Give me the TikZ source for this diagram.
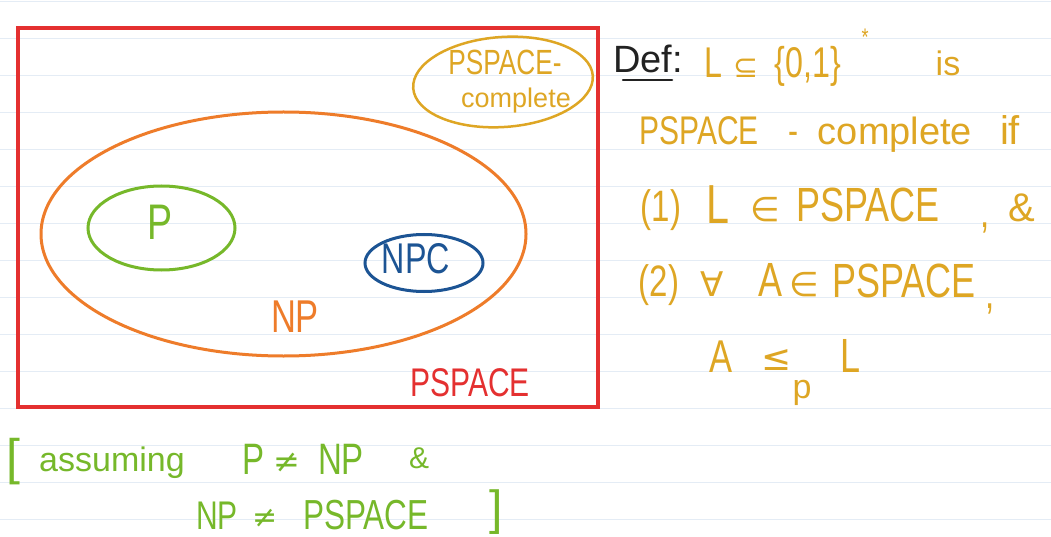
\documentclass[tikz,border=0pt]{standalone}
\usepackage{fontspec}
\setmainfont{Liberation Sans}[FakeStretch=0.75]
\newfontfamily\lcf{Liberation Sans}
\newfontfamily\symf{DejaVu Sans}
\newcommand{\fz}[1]{\fontsize{#1}{#1}\selectfont}
\definecolor{cred}{RGB}{228,48,48}
\definecolor{corange}{RGB}{238,124,42}
\definecolor{cgreen}{RGB}{118,184,42}
\definecolor{cblue}{RGB}{28,84,148}
\definecolor{cgold}{RGB}{222,166,36}
\definecolor{cdef}{RGB}{34,34,34}
\definecolor{cruled}{RGB}{228,236,245}
\begin{document}
\begin{tikzpicture}[x=1pt,y=-1pt,
  ruled/.style={draw=cruled,line width=1pt},
  setline/.style={line width=3pt},
  txt/.style={inner sep=0pt,outer sep=0pt,anchor=base}]
\useasboundingbox (0,0) rectangle (1051,537);
\fill[white] (0,0) rectangle (1051,537);
\foreach \i in {0,...,14} \draw[ruled] (0,{2+36.95*\i}) -- (1051,{2+36.95*\i});
% sets
\draw[setline,cred,line width=3.5pt] (18,28) rectangle (598,407);
\draw[setline,corange] (283.5,234) ellipse [x radius=242.5, y radius=122];
\draw[setline,cgreen] (161.5,228) ellipse [x radius=73.5, y radius=42];
\draw[setline,cblue] (424,263) ellipse [x radius=59, y radius=28.5];
\draw[setline,cgold,line width=2.5pt,rotate around={4:(503,82)}] (503,82) ellipse [x radius=90, y radius=45];
% set labels
\node[txt,cgreen,font=\fz{50}] (lp) at (160,240) {P};
\node[txt,cblue,font=\fz{43}] (lnpc) at (416,273) {NPC};
\node[txt,corange,font=\fz{46}] (lnp) at (295,332) {NP};
\node[txt,cred,font=\fz{40}] (lps) at (470,396) {PSPACE};
\node[txt,cgold,font=\fz{35}] (lpc1) at (505,75) {PSPACE-};
\node[txt,cgold,font=\lcf\fz{27}] (lpc2) at (516,108) {complete};
% definition
\node[txt,cdef,font=\lcf\fz{38}] (def) at (648,73) {Def:};
\draw[cdef,line width=2.5pt,line cap=round] (623,80) -- (672,80);
\node[txt,cgold,font=\fz{43}] (d1a) at (713,78) {L};
\node[txt,cgold,font=\symf\fz{30}] (d1b) at (746,78) {⊆};
\node[txt,cgold,font=\fz{43}] (d1c) at (808,78) {\{0,1\}};
\node[txt,cgold,font=\fz{24}] (d1d) at (865,46) {*};
\node[txt,cgold,font=\lcf\fz{34}] (d1e) at (948,76) {is};
\node[txt,cgold,font=\fz{40}] (d2a) at (699,145) {PSPACE};
\node[txt,cgold,font=\fz{40}] (d2b) at (793,145) {-};
\node[txt,cgold,font=\lcf\fz{38}] (d2c) at (895,145) {complete};
\node[txt,cgold,font=\lcf\fz{40}] (d2d) at (1010,145) {if};
\node[txt,cgold,font=\fz{44}] (d3a) at (661,222) {(1)};
\node[txt,cgold,font=\fz{55}] (d3b) at (718,224) {L};
\node[txt,cgold,font=\symf\fz{34}] (d3c) at (765,222) {∈};
\node[txt,cgold,font=\fz{48}] (d3d) at (868,222) {PSPACE};
\node[txt,cgold,font=\fz{44}] (d3e) at (985,228) {,};
\node[txt,cgold,font=\lcf\fz{40}] (d3f) at (1022,222) {\&};
\node[txt,cgold,font=\fz{44}] (d4a) at (659,296) {(2)};
\node[txt,cgold,font=\symf\fz{34}] (d4b) at (712,296) {∀};
\node[txt,cgold,font=\fz{48}] (d4c) at (770,296) {A};
\node[txt,cgold,font=\symf\fz{34}] (d4d) at (804,296) {∈};
\node[txt,cgold,font=\fz{48}] (d4e) at (904,297) {PSPACE};
\node[txt,cgold,font=\fz{44}] (d4f) at (990,308) {,};
\node[txt,cgold,font=\fz{46}] (d5a) at (721,372) {A};
\node[txt,cgold,font=\symf\fz{36}] (d5b) at (777,370) {≤};
\node[txt,cgold,font=\lcf\fz{34}] (d5c) at (802,398) {p};
\node[txt,cgold,font=\fz{48}] (d5d) at (850,372) {L};
% assumption
\node[txt,cgreen,font=\lcf\fz{50}] (b1) at (13,474) {[};
\node[txt,cgreen,font=\lcf\fz{34}] (b2) at (112,471) {assuming};
\node[txt,cgreen,font=\fz{44}] (b3) at (254,474) {P};
\node[txt,cgreen,font=\symf\fz{32}] (b4) at (287,472) {≠};
\node[txt,cgreen,font=\fz{44}] (b5) at (341,474) {NP};
\node[txt,cgreen,font=\lcf\fz{30}] (b6) at (419,468) {\&};
\node[txt,cgreen,font=\fz{40}] (b7) at (217,529) {NP};
\node[txt,cgreen,font=\symf\fz{30}] (b8) at (265,527) {≠};
\node[txt,cgreen,font=\fz{42}] (b9) at (366,529) {PSPACE};
\node[txt,cgreen,font=\lcf\fz{48}] (b10) at (496,524) {]};
\end{tikzpicture}
\end{document}
